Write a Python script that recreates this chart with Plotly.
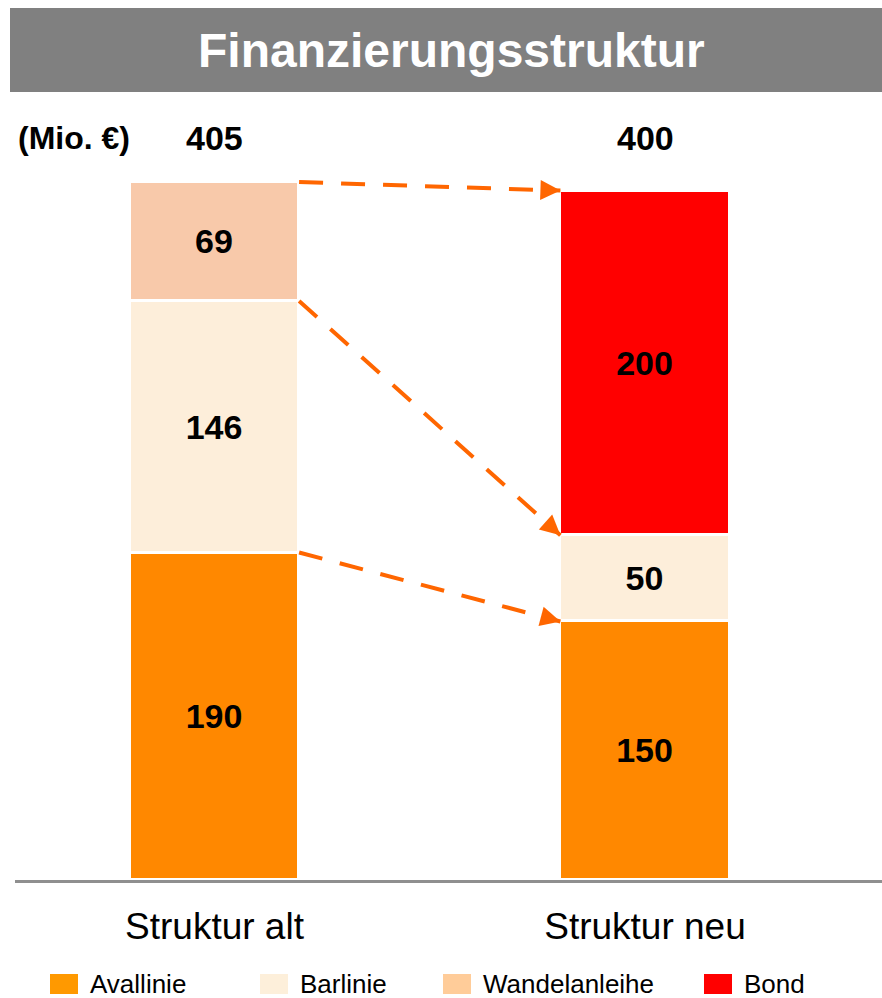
import plotly.graph_objects as go

# ---- data ----
categories = ["Struktur alt", "Struktur neu"]
series_names = ["Avallinie", "Barlinie", "Wandelanleihe", "Bond"]
avallinie = [190, 150]
barlinie = [146, 50]
wandelanleihe = [69, None]
bond = [None, 200]
unit_label = "(Mio. €)"
title_text = "Finanzierungsstruktur"

# ---- styles ----
bar_colors = ["#FF8800", "#FDEEDA", "#F8C9AA", "#FF0000"]
legend_colors = ["#FF9900", "#FDEFDA", "#FFCC99", "#FF0000"]
arrow_color = "#FF6600"
FONT = "Liberation Sans, Arial, sans-serif"
W, H = 882, 998
bar_width = 0.393

series = [avallinie, barlinie, wandelanleihe, bond]
xs = list(range(len(categories)))

fig = go.Figure()
for name, vals, col in zip(series_names, series, bar_colors):
    fig.add_trace(go.Bar(
        x=xs, y=vals, name=name, width=bar_width,
        marker=dict(color=col, line=dict(color="white", width=3)),
        text=[("" if v is None else str(v)) for v in vals],
        textposition="inside", insidetextanchor="middle", textangle=0,
        constraintext="none",
        textfont=dict(family=FONT, size=34, color="black", weight="bold"),
        showlegend=False, hoverinfo="skip",
    ))

# cumulative tops per category (stack boundaries)
def cum_tops(idx):
    tops, s = [], 0
    for vals in series:
        v = vals[idx]
        if v is not None:
            s += v
            tops.append(s)
    return tops

left_tops = cum_tops(0)
right_tops = cum_tops(1)
totals = [sum(v[i] for v in series if v[i] is not None) for i in xs]

# dashed arrows between stack boundaries
x_start = xs[0] + bar_width / 2
x_end = xs[1] - bar_width / 2
for y0, y1 in zip(left_tops, right_tops):
    fig.add_shape(type="line", xref="x", yref="y", x0=x_start, y0=y0, x1=x_end, y1=y1,
                  line=dict(color=arrow_color, width=4, dash="24px,18px"), layer="above")
    f = 0.04
    fig.add_annotation(x=x_end, y=y1, xref="x", yref="y",
                       ax=x_end - f * (x_end - x_start), ay=y1 - f * (y1 - y0),
                       axref="x", ayref="y", showarrow=True, arrowhead=2,
                       arrowsize=1.0, arrowwidth=4, arrowcolor=arrow_color, text="")

# totals above bars
def py(p):
    return 1 - p / H

for i, t in zip(xs, totals):
    fig.add_annotation(x=i, y=py(138), xref="x", yref="paper", text=f"<b>{t}</b>",
                       showarrow=False, font=dict(family=FONT, size=34, color="black"),
                       xanchor="center", yanchor="middle")
fig.add_annotation(x=73.5 / W, y=py(138), xref="paper", yref="paper", text=f"<b>{unit_label}</b>",
                   showarrow=False, font=dict(family=FONT, size=32, color="black"),
                   xanchor="center", yanchor="middle")

# title bar
fig.add_shape(type="rect", xref="paper", yref="paper", x0=10 / W, x1=1, y0=py(92), y1=py(8),
              fillcolor="#808080", line=dict(width=0), layer="below")
fig.add_annotation(x=451.5 / W, y=py(50), xref="paper", yref="paper", text=f"<b>{title_text}</b>",
                   showarrow=False, font=dict(family=FONT, size=48, color="white"),
                   xanchor="center", yanchor="middle")

# manual legend
legend_x = [50, 260, 443, 704]
for name, col, lx in zip(series_names, legend_colors, legend_x):
    fig.add_shape(type="rect", xref="paper", yref="paper", x0=lx / W, x1=(lx + 28) / W,
                  y0=py(994), y1=py(974), fillcolor=col, line=dict(width=0))
    fig.add_annotation(x=(lx + 38) / W, y=py(984), xref="paper", yref="paper", text=name,
                       showarrow=False, xanchor="left", yanchor="middle",
                       font=dict(family=FONT, size=26, color="black"))

# axes geometry
px_per_unit = 430.5
xmin = -(214.5 - 15) / px_per_unit
xmax = xmin + (W - 15) / px_per_unit
y_px_per_unit = 698 / 405
ymax = (880 - 100) / y_px_per_unit

fig.update_layout(
    width=W, height=H, barmode="stack", bargap=0,
    paper_bgcolor="white", plot_bgcolor="white",
    margin=dict(l=0, r=0, t=0, b=0),
    xaxis=dict(domain=[15 / W, 1], range=[xmin, xmax], tickvals=xs, ticktext=categories,
               showline=True, linecolor="#8F8F8F", linewidth=3, showgrid=False, zeroline=False,
               ticks="outside", ticklen=12, tickcolor="rgba(0,0,0,0)",
               tickfont=dict(family=FONT, size=37, color="black"), fixedrange=True),
    yaxis=dict(domain=[py(880), py(100)], range=[0, ymax], visible=False, fixedrange=True),
    font=dict(family=FONT),
)

fig.write_html("out.html", post_script="document.body.style.margin='0';",
               config={"displayModeBar": False})
